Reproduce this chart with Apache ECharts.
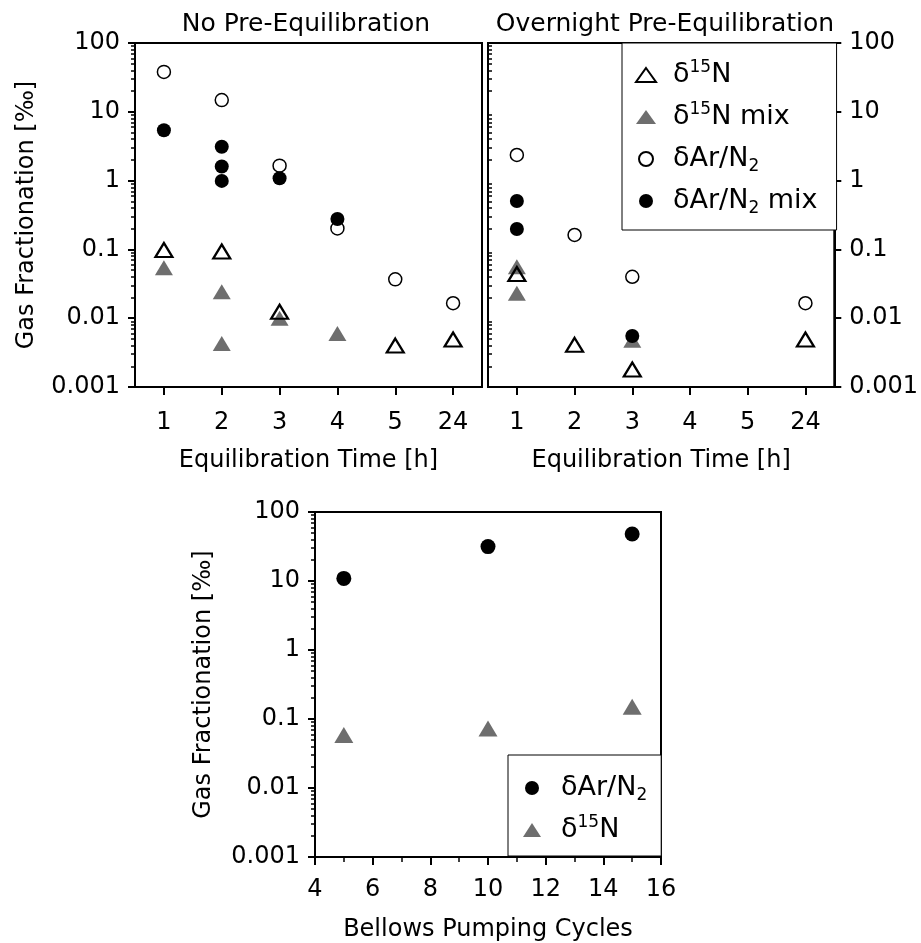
<!DOCTYPE html>
<html>
<head>
<meta charset="utf-8">
<script src="https://cdn.jsdelivr.net/npm/echarts@6.0.0/dist/echarts.min.js"></script>
<style>
  html, body { margin: 0; padding: 0; background: #fff; }
  #chart { width: 921px; height: 943px; }
</style>
</head>
<body>
<div id="chart"></div>
<script>
// categories / ticks
const timeCats = ['1', '2', '3', '4', '5', '24'];
const yTickLabels = ['0.001', '0.01', '0.1', '1', '10', '100'];
const yDecades = [0.001, 0.01, 0.1, 1, 10];
const minorSteps = [2, 3, 4, 5, 6, 7, 8, 9];

// No pre-equilibration
const noPreN15 = [['1', 0.098], ['2', 0.093], ['3', 0.0124], ['5', 0.0040], ['24', 0.0049]];
const noPreN15Mix = [['1', 0.054], ['2', 0.0243], ['2', 0.0043], ['3', 0.0100], ['4', 0.0060]];
const noPreAr = [['1', 38], ['2', 14.8], ['3', 1.65], ['4', 0.202], ['5', 0.0367], ['24', 0.0165]];
const noPreArMix = [['1', 5.4], ['2', 3.1], ['2', 1.6], ['2', 0.99], ['3', 1.08], ['4', 0.277]];

// overnight pre-equilibration
const overN15 = [['1', 0.044], ['2', 0.0041], ['3', 0.0018], ['24', 0.0049]];
const overN15Mix = [['1', 0.056], ['1', 0.023], ['3', 0.0048]];
const overAr = [['1', 2.36], ['2', 0.162], ['3', 0.040], ['24', 0.0165]];
const overArMix = [['1', 0.505], ['1', 0.198], ['3', 0.0055]];

// bellows pumping
const bellowsCycles = [5, 10, 15];
const bellowsAr = [10.9, 31.5, 48];
const bellowsN15 = [0.0586, 0.073, 0.151];

const FONT = 'DejaVu Sans';
const GRAY = '#6e6e6e';
const yMinor = [];
yDecades.forEach((d) => { minorSteps.forEach((m) => { yMinor.push(d * m); }); });

const legendNames = {
  N15: 'δ{sup|15}N',
  N15mix: 'δ{sup|15}N mix',
  ArN2: 'δAr/N{sub|2}',
  ArN2mix: 'δAr/N{sub|2} mix',
  bAr: 'δAr/N{sub|2}',
  bN15: 'δ{sup|15}N',
};

const rects = [
  { left: 135, top: 43, width: 347, height: 344 },
  { left: 488, top: 43, width: 349, height: 344 },
  { left: 315, top: 512, width: 346, height: 345 },
];

function yLabel(v) {
  return yTickLabels[Math.round(Math.log10(v)) + 3];
}

function mainY(gridIndex, position, name, nameGap) {
  return {
    type: 'log',
    gridIndex,
    position,
    logBase: 10,
    min: 0.001,
    max: 100,
    name,
    nameLocation: 'middle',
    nameGap,
    nameTextStyle: { fontFamily: FONT, fontSize: 24, color: '#000' },
    axisLine: { show: true, lineStyle: { color: '#000', width: 2 } },
    axisTick: { show: true, length: 7, lineStyle: { color: '#000', width: 2 } },
    axisLabel: {
      fontFamily: FONT, fontSize: 24, color: '#000', margin: 15, formatter: yLabel,
    },
    splitLine: { show: false },
  };
}

// second axis on a copy of the grid, only for the minor ticks (2..9 of each decade)
function minorY(gridIndex, position) {
  return {
    type: 'log',
    gridIndex,
    position,
    logBase: 10,
    min: 0.001,
    max: 100,
    axisLine: { show: false },
    axisLabel: { show: false },
    splitLine: { show: false },
    axisTick: {
      show: true, length: 4, customValues: yMinor, lineStyle: { color: '#000', width: 1.5 },
    },
  };
}

function timeX(gridIndex) {
  return {
    type: 'category',
    gridIndex,
    data: timeCats,
    boundaryGap: true,
    name: 'Equilibration Time [h]',
    nameLocation: 'middle',
    nameGap: 62,
    nameTextStyle: { fontFamily: FONT, fontSize: 24, color: '#000' },
    axisLine: { show: true, lineStyle: { color: '#000', width: 2 } },
    axisTick: { show: true, alignWithLabel: true, length: 8, lineStyle: { color: '#000', width: 2 } },
    axisLabel: { fontFamily: FONT, fontSize: 24, color: '#000', margin: 24 },
    splitLine: { show: false },
  };
}

function openTri(name, data, idx) {
  return {
    name, type: 'scatter', xAxisIndex: idx, yAxisIndex: idx, data, z: 5,
    symbol: 'triangle', symbolSize: [17, 14],
    itemStyle: { color: 'rgba(0,0,0,0)', borderColor: '#000', borderWidth: 2.2, opacity: 1 },
  };
}
function grayTri(name, data, idx, size) {
  return {
    name, type: 'scatter', xAxisIndex: idx, yAxisIndex: idx, data, z: 2,
    symbol: 'triangle', symbolSize: size || [18, 15],
    itemStyle: { color: GRAY, opacity: 1 },
  };
}
function openCirc(name, data, idx) {
  return {
    name, type: 'scatter', xAxisIndex: idx, yAxisIndex: idx, data, z: 4,
    symbol: 'circle', symbolSize: 13,
    itemStyle: { color: 'rgba(0,0,0,0)', borderColor: '#000', borderWidth: 1.5, opacity: 1 },
  };
}
function fullCirc(name, data, idx, size) {
  return {
    name, type: 'scatter', xAxisIndex: idx, yAxisIndex: idx, data, z: 3,
    symbol: 'circle', symbolSize: size || 14,
    itemStyle: { color: '#000', opacity: 1 },
  };
}

const legendRich = {
  sup: { fontFamily: FONT, fontSize: 17, lineHeight: 18, verticalAlign: 'top', color: '#000' },
  sub: { fontFamily: FONT, fontSize: 17, lineHeight: 12, verticalAlign: 'bottom', color: '#000' },
};

const option = {
  animation: false,
  backgroundColor: '#fff',
  textStyle: { fontFamily: FONT, color: '#000' },
  title: [
    {
      text: 'No Pre-Equilibration', left: 306, top: 12, padding: 0, textAlign: 'center',
      textStyle: { fontFamily: FONT, fontSize: 25, fontWeight: 'normal', color: '#000' },
    },
    {
      text: 'Overnight Pre-Equilibration', left: 665, top: 12, padding: 0, textAlign: 'center',
      textStyle: { fontFamily: FONT, fontSize: 25, fontWeight: 'normal', color: '#000' },
    },
  ],
  grid: [
    { ...rects[0], show: true, borderColor: '#000', borderWidth: 2, backgroundColor: 'transparent' },
    { ...rects[1], show: true, borderColor: '#000', borderWidth: 2, backgroundColor: 'transparent' },
    { ...rects[2], show: true, borderColor: '#000', borderWidth: 2, backgroundColor: 'transparent' },
    { ...rects[0] },
    { ...rects[1] },
    { ...rects[2] },
  ],
  legend: [
    {
      orient: 'vertical',
      left: 622,
      top: 43,
      padding: [16, 19, 13, 13],
      itemGap: 10,
      itemWidth: 20,
      itemHeight: 14,
      selectedMode: false,
      backgroundColor: '#fff',
      borderColor: '#000',
      borderWidth: 1,
      data: ['N15', 'N15mix', 'ArN2', 'ArN2mix'],
      formatter: (name) => legendNames[name],
      textStyle: {
        fontFamily: FONT, fontSize: 27, lineHeight: 32, color: '#000', padding: [0, 0, 0, 12], rich: legendRich,
      },
    },
    {
      orient: 'vertical',
      left: 508,
      top: 755,
      padding: [17, 14, 10, 15],
      itemGap: 10,
      itemWidth: 18,
      itemHeight: 14,
      selectedMode: false,
      backgroundColor: '#fff',
      borderColor: '#000',
      borderWidth: 1,
      data: ['bAr', 'bN15'],
      formatter: (name) => legendNames[name],
      textStyle: {
        fontFamily: FONT, fontSize: 27, lineHeight: 32, color: '#000', padding: [0, 0, 0, 15], rich: legendRich,
      },
    },
  ],
  xAxis: [
    timeX(0),
    timeX(1),
    {
      type: 'value',
      gridIndex: 2,
      min: 4,
      max: 16,
      interval: 2,
      name: 'Bellows Pumping Cycles',
      nameLocation: 'middle',
      nameGap: 61,
      nameTextStyle: { fontFamily: FONT, fontSize: 24, color: '#000' },
      axisLine: { show: true, lineStyle: { color: '#000', width: 2 } },
      axisTick: { show: true, length: 8, lineStyle: { color: '#000', width: 2 } },
      minorTick: { show: true, splitNumber: 2, length: 5, lineStyle: { color: '#000', width: 1.5 } },
      axisLabel: { fontFamily: FONT, fontSize: 24, color: '#000', margin: 21 },
      splitLine: { show: false },
    },
    { type: 'value', gridIndex: 3, show: false },
    { type: 'value', gridIndex: 4, show: false },
    { type: 'value', gridIndex: 5, show: false },
  ],
  yAxis: [
    mainY(0, 'left', 'Gas Fractionation [‰]', 96),
    mainY(1, 'right', '', 0),
    mainY(2, 'left', 'Gas Fractionation [‰]', 99),
    minorY(3, 'left'),
    minorY(4, 'right'),
    minorY(5, 'left'),
  ],
  series: [
    grayTri('N15mix', noPreN15Mix, 0),
    fullCirc('ArN2mix', noPreArMix, 0),
    openCirc('ArN2', noPreAr, 0),
    openTri('N15', noPreN15, 0),
    grayTri('N15mix', overN15Mix, 1),
    fullCirc('ArN2mix', overArMix, 1),
    openCirc('ArN2', overAr, 1),
    openTri('N15', overN15, 1),
    fullCirc('bAr', bellowsCycles.map((c, i) => [c, bellowsAr[i]]), 2, 15),
    grayTri('bN15', bellowsCycles.map((c, i) => [c, bellowsN15[i]]), 2, [19, 16]),
  ],
};

const chart = echarts.init(document.getElementById('chart'));
chart.setOption(option);
</script>
</body>
</html>
